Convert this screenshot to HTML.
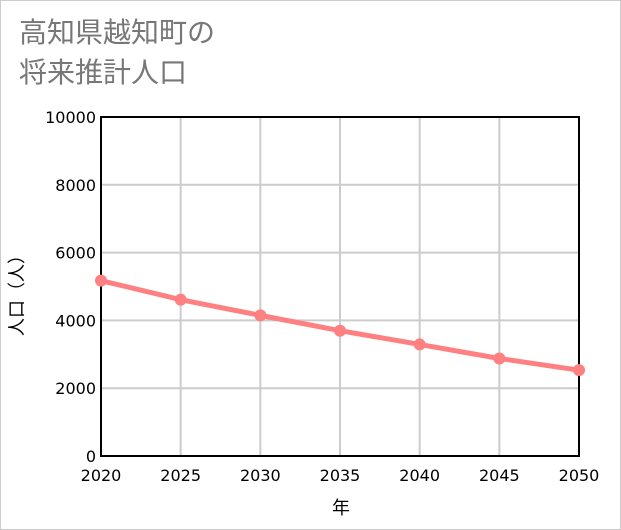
<!DOCTYPE html>
<html><head><meta charset="utf-8"><style>
body{margin:0;background:#fff;}
#wrap{position:relative;width:619px;height:528px;border:1px solid #ccc;background:#fefffe;overflow:hidden;font-family:"Liberation Sans","Noto Sans CJK JP",sans-serif;}
#title{position:absolute;left:18px;top:12px;font-size:28px;line-height:40px;color:#777;}
</style></head><body>
<div id="wrap">
<div id="title">高知県越知町の<br>将来推計人口</div>
<svg id="chart" width="619" height="528" style="position:absolute;left:0;top:0"></svg>
</div>
<script>
const years=[2020,2025,2030,2035,2040,2045,2050];
const population=[5173,4611,4148,3696,3291,2877,2532];
const yTicks=[0,2000,4000,6000,8000,10000];
const NS='http://www.w3.org/2000/svg';
const svg=document.getElementById('chart');
const L=100,R=578,T=116,B=455;
const xS=v=>L+(v-2020)/30*(R-L);
const yS=v=>B-v/10000*(B-T);
const TF='"DejaVu Sans",sans-serif';
function mk(t,a,p){const e=document.createElementNS(NS,t);for(const k in a)e.setAttribute(k,a[k]);(p||svg).appendChild(e);return e;}
yTicks.forEach(v=>{
 const g=mk('line',{x1:L,x2:R,y1:yS(v),y2:yS(v),stroke:'#ccc','stroke-width':2});
 
 
 const t=mk('text',{x:L-5,y:yS(v)+6,'text-anchor':'end','font-size':16,'font-family':TF,fill:'#000'});
 t.textContent=v;
 
 
});
years.forEach(v=>{
 const g=mk('line',{x1:xS(v),x2:xS(v),y1:T,y2:B,stroke:'#ccc','stroke-width':2});
 
 
 const t=mk('text',{x:xS(v),y:480,'text-anchor':'middle','font-size':16,'font-family':TF,fill:'#000'});
 t.textContent=v;
 
 
});
const fr=mk('rect',{x:L,y:T,width:R-L,height:B-T,fill:'none',stroke:'#000','stroke-width':2});


const ln=mk('polyline',{points:years.map((y,i)=>xS(y)+','+yS(population[i])).join(' '),fill:'none',stroke:'#ff8080','stroke-width':5});


years.forEach((y,i)=>{
 const c=mk('circle',{cx:xS(y),cy:yS(population[i]),r:6,fill:'#ff8080'});
 
 
});
const xt=mk('text',{x:340,y:513,'text-anchor':'middle','font-size':18,fill:'#000'});
xt.textContent='年';


const yt=mk('text',{x:0,y:0,'text-anchor':'middle','font-size':18,fill:'#000',transform:'translate(22,290) rotate(-90)'});
yt.textContent='人口（人）';


</script>
</body></html>
